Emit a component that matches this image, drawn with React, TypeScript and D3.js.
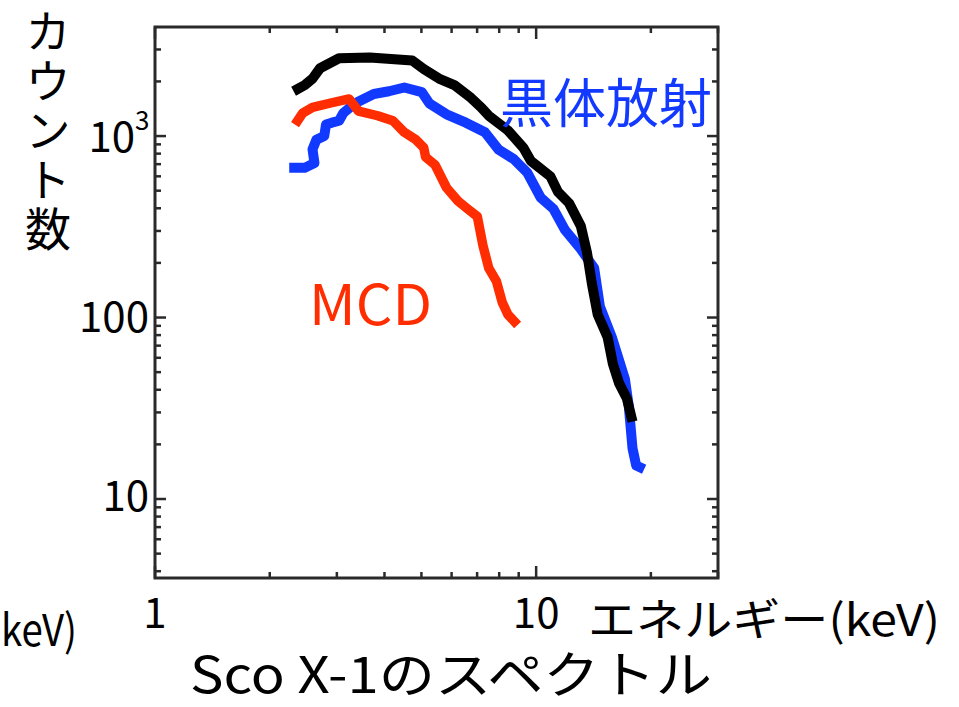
import React from "react";
import * as d3 from "d3";

// Energy (keV) / counts
const blackE = [2.31, 2.47, 2.59, 2.71, 3.04, 3.66, 4.73, 5.07, 5.56, 6.10, 6.69, 7.17, 7.51, 8.43, 9.25, 9.69, 10.9, 11.4, 12.2, 13.1, 13.6, 14.0, 14.5, 15.4, 15.9, 16.5, 17.3, 17.9];
const blackC = [1766, 1907, 2074, 2364, 2684, 2707, 2606, 2340, 2074, 1910, 1649, 1439, 1294, 1075, 864, 729, 600, 494, 427, 319, 227, 154, 104, 77.9, 55.4, 43.5, 35.8, 26.7];

const blueE = [2.25, 2.47, 2.62, 2.59, 2.65, 2.78, 2.81, 2.91, 3.04, 3.12, 3.34, 3.75, 4.11, 4.51, 5.01, 5.25, 5.82, 6.54, 7.34, 7.96, 8.73, 9.47, 10.27, 11.1, 11.9, 13.1, 14.2, 14.7, 15.8, 16.5, 17.1, 17.5, 17.9, 18.3, 19.2];
const blueC = [668, 668, 711, 844, 953, 1000, 1157, 1185, 1214, 1339, 1512, 1706, 1766, 1852, 1748, 1512, 1318, 1185, 1049, 844, 747, 630, 459, 397, 304, 238, 187, 115, 77.9, 58.2, 45.7, 32.5, 19.0, 15.3, 14.6];

const redE = [2.33, 2.44, 2.59, 2.91, 3.23, 3.42, 3.84, 4.21, 4.51, 4.84, 5.07, 5.13, 5.43, 5.82, 6.24, 6.61, 7.01, 7.25, 7.51, 7.87, 8.15, 8.43, 8.94];
const redC = [1157, 1339, 1439, 1526, 1601, 1372, 1294, 1214, 1049, 953, 864, 765, 694, 519, 438, 397, 360, 250, 187, 158, 121, 104, 91.0];

const xTickLabels = ["1", "10"];
const xTickValues = [1, 10];
const yTickValues = [1000, 100, 10];
const yTitle = "カウント数";

const W = 959;
const H = 707;
const L = 155, R = 718, T = 27, B = 578;

const CJK = "'Noto Sans CJK JP', 'Noto Sans', sans-serif";

export default function App() {
  const x = d3.scaleLog().domain([1, 30]).range([L, R]);
  const y = d3.scaleLog().domain([3.67, 3990]).range([B, T]);

  const line = d3
    .line<[number, number]>()
    .x((d) => x(d[0]))
    .y((d) => y(d[1]));

  const zip = (a: number[], b: number[]) => a.map((v, i) => [v, b[i]] as [number, number]);

  const xTicks: { v: number; major: boolean }[] = [];
  for (const dec of [1, 10]) {
    for (let k = 1; k <= 9; k++) {
      const v = dec * k;
      if (v > 30) break;
      xTicks.push({ v, major: k === 1 });
    }
  }
  const yTicks: { v: number; major: boolean }[] = [];
  for (const dec of [1, 10, 100, 1000]) {
    for (let k = 1; k <= 9; k++) {
      const v = dec * k;
      if (v < 3.67 || v > 3990) continue;
      yTicks.push({ v, major: k === 1 });
    }
  }

  const frameColor = "#2a2a2a";

  return (
    <svg
      width={W}
      height={H}
      viewBox={`0 0 ${W} ${H}`}
      style={{ position: "absolute", left: 0, top: 0, background: "#fff" }}
    >
      <rect x={0} y={0} width={W} height={H} fill="#fff" />
      <rect x={L} y={T} width={R - L} height={B - T} fill="none" stroke={frameColor} strokeWidth={3} />
      {xTicks.map((t, i) => (
        <g key={"xt" + i} stroke={frameColor} strokeWidth={2.5}>
          <line x1={x(t.v)} x2={x(t.v)} y1={B} y2={B - (t.major ? 12 : 6)} />
          <line x1={x(t.v)} x2={x(t.v)} y1={T} y2={T + (t.major ? 12 : 6)} />
        </g>
      ))}
      {yTicks.map((t, i) => (
        <g key={"yt" + i} stroke={frameColor} strokeWidth={2.5}>
          <line x1={L} x2={L + (t.major ? 11 : 6)} y1={y(t.v)} y2={y(t.v)} />
          <line x1={R} x2={R - (t.major ? 11 : 6)} y1={y(t.v)} y2={y(t.v)} />
        </g>
      ))}

      <path d={line(zip(blueE, blueC)) || ""} fill="none" stroke="#1239ff" strokeWidth={10} strokeLinejoin="round" />
      <path d={line(zip(redE, redC)) || ""} fill="none" stroke="#ff2d00" strokeWidth={9.5} strokeLinejoin="round" />
      <path d={line(zip(blackE, blackC)) || ""} fill="none" stroke="#000" strokeWidth={10} strokeLinejoin="round" />

      {xTickValues.map((v, i) => (
        <text key={"xl" + i} x={x(v)} y={628} textAnchor="middle" fontFamily={CJK} fontSize={42} fill="#000">
          {xTickLabels[i]}
        </text>
      ))}
      <text x={135} y={152} textAnchor="end" fontFamily={CJK} fontSize={42} fill="#000">10</text>
      <text x={135} y={130} textAnchor="start" fontFamily={CJK} fontSize={26} fill="#000">3</text>
      <text x={149} y={y(yTickValues[1]) + 14} textAnchor="end" fontFamily={CJK} fontSize={42} fill="#000">100</text>
      <text x={149} y={y(yTickValues[2]) + 12} textAnchor="end" fontFamily={CJK} fontSize={42} fill="#000">10</text>

      <text x={588} y={636} fontFamily={CJK} fontSize={44} fill="#000" textLength={352} lengthAdjust="spacingAndGlyphs">
        エネルギー(keV)
      </text>
      <text x={1} y={646} fontFamily={CJK} fontSize={44} fill="#000" textLength={76} lengthAdjust="spacingAndGlyphs">
        keV)
      </text>
      <text x={190} y={693} fontFamily={CJK} fontSize={50} fill="#000" textLength={522} lengthAdjust="spacingAndGlyphs">
        Sco X-1のスペクトル
      </text>
      <text
        x={48}
        y={8}
        fontFamily={CJK}
        fontSize={46}
        fill="#000"
        style={{ writingMode: "vertical-rl", textOrientation: "upright" } as React.CSSProperties}
        textLength={244}
        lengthAdjust="spacing"
      >
        {yTitle}
      </text>

      <text x={500} y={100} dominantBaseline="central" fontFamily={CJK} fontSize={53} fill="#1239ff" textLength={212} lengthAdjust="spacingAndGlyphs">
        黒体放射
      </text>
      <text x={309} y={325} fontFamily={CJK} fontSize={56} fill="#ff2d00" textLength={123} lengthAdjust="spacingAndGlyphs">
        MCD
      </text>
    </svg>
  );
}
